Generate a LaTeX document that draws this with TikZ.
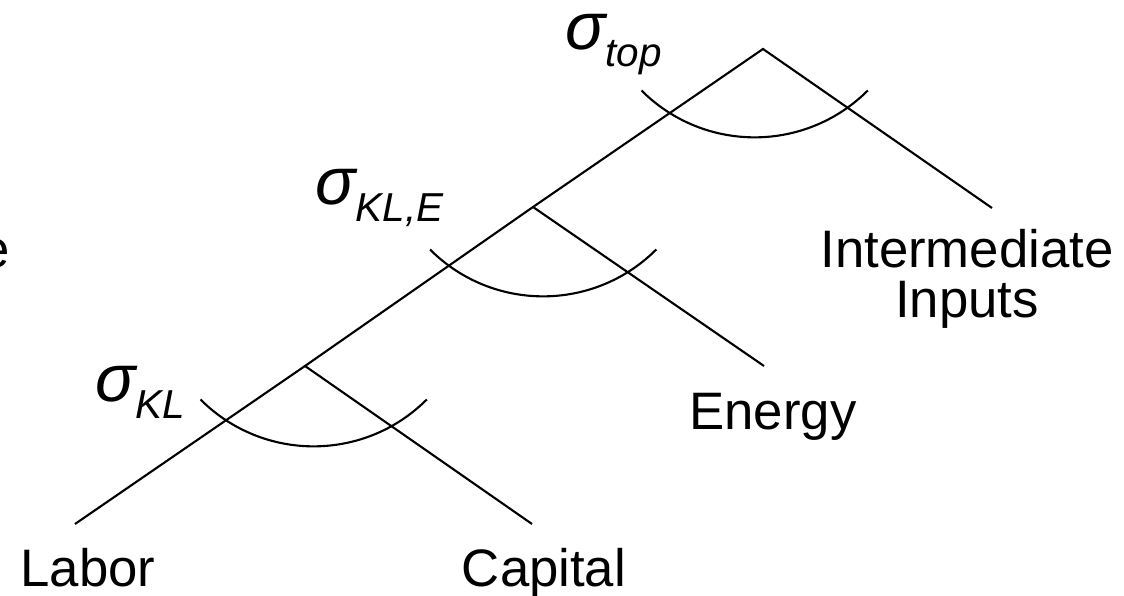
\documentclass[tikz,border=0pt]{standalone}
\usepackage{fontspec}
\setmainfont{Liberation Sans}
\usetikzlibrary{positioning}
\newcommand{\elas}[1]{{\fontsize{38}{40}\selectfont\itshape σ}\raisebox{-0.33cm}{\fontsize{23}{26}\selectfont\itshape #1}}
\tikzset{
	branch/.style ={line width=1.2pt},
	elasarc/.style={line width=1.2pt},
	input/.style  ={font=\fontsize{30}{28.5}\selectfont, inner sep=0pt, align=center},
	elas/.style   ={inner sep=0pt, anchor=base west},
}
\begin{document}
\begin{tikzpicture}
	\useasboundingbox (0,0) rectangle (22.48,11.92);
	% nests
	\coordinate (top) at (15.26,10.94);
	\coordinate (kle) at (10.66,7.78);
	\coordinate (kl) at (6.10,4.60);
	% free ends of the branches
	\coordinate (interend) at (19.84,7.76);
	\coordinate (energyend) at (15.28,4.60);
	\coordinate (capend) at (10.64,1.44);
	\coordinate (laborend) at (1.50,1.44);
	\node[input, anchor=base] (inter) at (19.34,5.56) {Intermediate\\ Inputs};
	\node[input, anchor=base] (energy) at (15.46,3.32) {Energy};
	\node[input, anchor=base] (labor) at (1.76,0.18) {Labor};
	\node[input, anchor=base] (capital) at (10.88,0.18) {Capital};
	\node[input, anchor=base east] (cut) at (0.20,6.56) {e};
	\draw[branch] (laborend) -- (kl) -- (kle) -- (top) -- (interend);
	\draw[branch] (kle) -- (energyend);
	\draw[branch] (kl) -- (capend);
	\foreach \x/\y in {12.83/10.11, 8.60/6.93, 4.01/3.93} {
		\draw[elasarc] (\x,\y) arc[start angle=225, end angle=315, radius=3.2];
	}
	\node[elas] (stop) at (11.30,10.92) {\elas{top}};
	\node[elas] (skle) at (6.30,7.82) {\elas{KL,E}};
	\node[elas] (skl) at (1.90,3.88) {\elas{KL}};
\end{tikzpicture}
\end{document}
